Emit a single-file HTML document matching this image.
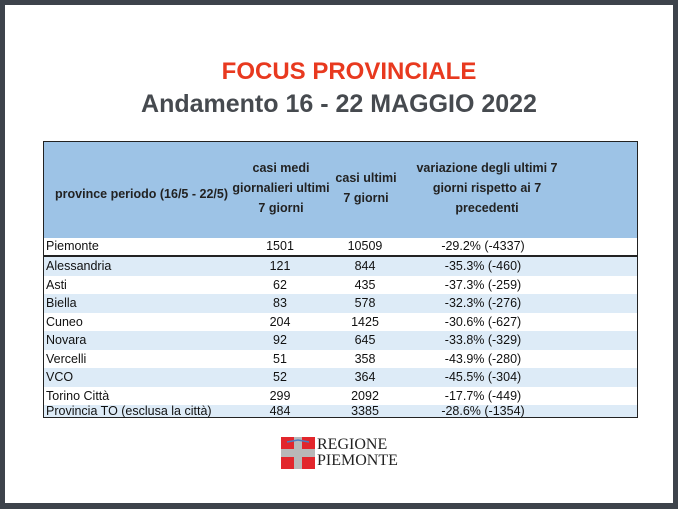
<!DOCTYPE html>
<html><head><style>
body{margin:0;width:678px;height:509px;background:#3d434b;position:relative;overflow:hidden;font-family:"Liberation Sans",Arial,sans-serif}
.slide{position:absolute;left:5px;top:5px;width:668px;height:498px;background:#fff}
.t{position:absolute;left:0;width:678px;text-align:center;font-weight:bold;white-space:nowrap}
.tab{position:absolute;left:43px;top:141px;width:595px;height:277px;border:1.5px solid #222;box-sizing:border-box}
.hd{position:absolute;left:0;top:0;width:100%;height:96px;background:#9dc3e6;border-bottom:2px solid #222;font-weight:bold;font-size:12.5px;color:#222}
.hd div{position:absolute;text-align:center;line-height:20px}
.r{position:absolute;left:0;width:100%;font-size:12.5px;color:#111}
.r span{position:absolute;top:0}
.c{text-align:center;width:100px;margin-left:-50px}
</style></head><body>
<div class="slide"></div>
<div class="t" style="top:58px;font-size:24px;color:#e8391f;left:10px">FOCUS PROVINCIALE</div>
<div class="t" style="top:90px;font-size:25px;color:#464a4f;left:0px">Andamento 16 - 22 MAGGIO 2022</div>
<div class="tab">
<div class="hd">
<div style="left:0px;top:42px;width:195px;white-space:nowrap">province periodo (16/5 - 22/5)</div>
<div style="left:186px;top:16px;width:102px">casi medi giornalieri ultimi 7 giorni</div>
<div style="left:288px;top:26px;width:68px">casi ultimi 7 giorni</div>
<div style="left:368px;top:16px;width:150px">variazione degli ultimi 7 giorni rispetto ai 7 precedenti</div>
</div>
<div class="r" style="top:96px;height:17px;line-height:17px;border-bottom:2px solid #222;background:#fff"><span style="left:2px">Piemonte</span><span class="c" style="left:236px">1501</span><span class="c" style="left:321px">10509</span><span class="c" style="left:439px">-29.2% (-4337)</span></div>
<div class="r" style="top:115px;height:18.5px;line-height:18.5px;background:#ddebf7"><span style="left:2px">Alessandria</span><span class="c" style="left:236px">121</span><span class="c" style="left:321px">844</span><span class="c" style="left:439px">-35.3% (-460)</span></div>
<div class="r" style="top:133.5px;height:18.5px;line-height:18.5px"><span style="left:2px">Asti</span><span class="c" style="left:236px">62</span><span class="c" style="left:321px">435</span><span class="c" style="left:439px">-37.3% (-259)</span></div>
<div class="r" style="top:152px;height:18.5px;line-height:18.5px;background:#ddebf7"><span style="left:2px">Biella</span><span class="c" style="left:236px">83</span><span class="c" style="left:321px">578</span><span class="c" style="left:439px">-32.3% (-276)</span></div>
<div class="r" style="top:170.5px;height:18.5px;line-height:18.5px"><span style="left:2px">Cuneo</span><span class="c" style="left:236px">204</span><span class="c" style="left:321px">1425</span><span class="c" style="left:439px">-30.6% (-627)</span></div>
<div class="r" style="top:189px;height:18.5px;line-height:18.5px;background:#ddebf7"><span style="left:2px">Novara</span><span class="c" style="left:236px">92</span><span class="c" style="left:321px">645</span><span class="c" style="left:439px">-33.8% (-329)</span></div>
<div class="r" style="top:207.5px;height:18.5px;line-height:18.5px"><span style="left:2px">Vercelli</span><span class="c" style="left:236px">51</span><span class="c" style="left:321px">358</span><span class="c" style="left:439px">-43.9% (-280)</span></div>
<div class="r" style="top:226px;height:18.5px;line-height:18.5px;background:#ddebf7"><span style="left:2px">VCO</span><span class="c" style="left:236px">52</span><span class="c" style="left:321px">364</span><span class="c" style="left:439px">-45.5% (-304)</span></div>
<div class="r" style="top:244.5px;height:18.5px;line-height:18.5px"><span style="left:2px">Torino Città</span><span class="c" style="left:236px">299</span><span class="c" style="left:321px">2092</span><span class="c" style="left:439px">-17.7% (-449)</span></div>
<div class="r" style="top:263px;height:12px;line-height:13px;background:#ddebf7"><span style="left:2px">Provincia TO (esclusa la città)</span><span class="c" style="left:236px">484</span><span class="c" style="left:321px">3385</span><span class="c" style="left:439px">-28.6% (-1354)</span></div>
</div>
<svg style="position:absolute;left:281px;top:437px" width="34" height="32" viewBox="0 0 34 32">
<rect x="0" y="0" width="34" height="32" fill="#b8b8b8"/>
<rect x="0" y="0" width="13" height="12" fill="#e2262c"/>
<rect x="21" y="0" width="13" height="12" fill="#e2262c"/>
<rect x="0" y="20" width="13" height="12" fill="#e2262c"/>
<rect x="21" y="20" width="13" height="12" fill="#e2262c"/>
<path d="M6 5 L17 3 L28 5" stroke="#4a7fc1" stroke-width="1.5" fill="none"/>
</svg>
<div style="position:absolute;left:317px;top:437px;font-family:'Liberation Serif',serif;font-size:16px;line-height:16px;color:#222">REGIONE<br>PIEMONTE</div>
</body></html>
